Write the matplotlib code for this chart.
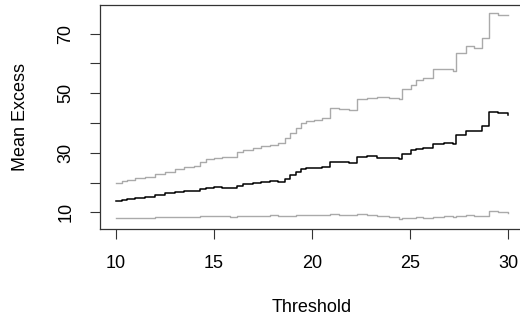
import numpy as np
import matplotlib
matplotlib.use("Agg")
from matplotlib import pyplot as plt

plt.rcParams['font.family'] = ['Liberation Sans', 'DejaVu Sans']

#%% data (mean residual life plot)
threshold = [10.0, 10.3, 10.6, 11.0, 11.5, 12.0, 12.5, 13.0, 13.5, 14.0,
             14.3, 14.6, 15.0, 15.4, 15.8, 16.2, 16.5, 17.0, 17.4, 17.85,
             18.25, 18.6, 18.9, 19.2, 19.45, 19.7, 20.1, 20.5, 20.9, 21.4,
             21.9, 22.3, 22.8, 23.3, 23.9, 24.45, 24.6, 25.05, 25.3, 25.65,
             26.15, 26.7, 27.2, 27.35, 27.85, 28.25, 28.65, 29.0, 29.5, 30.0]

mean_excess = [13.8, 14.3, 14.6, 14.8, 15.3, 15.9, 16.4, 16.7, 17.0, 17.2,
               17.8, 18.3, 18.4, 18.3, 18.2, 19.0, 19.6, 19.8, 20.2, 20.6,
               20.1, 21.3, 22.5, 23.6, 24.7, 24.9, 24.9, 25.3, 27.0, 26.8,
               26.4, 28.6, 28.8, 28.4, 28.1, 27.8, 29.5, 30.8, 31.3, 31.5,
               33.1, 33.4, 32.9, 35.9, 37.4, 37.2, 38.9, 43.6, 43.3, 42.7]

upper_ci = [19.7, 20.4, 21.0, 21.4, 22.0, 22.8, 23.6, 24.4, 25.1, 25.6,
            26.8, 27.8, 28.4, 28.6, 28.7, 30.2, 31.0, 31.6, 32.2, 32.6,
            33.4, 35.0, 36.6, 38.3, 39.9, 40.6, 41.0, 41.6, 45.0, 44.6,
            44.2, 48.0, 48.4, 48.6, 48.3, 48.0, 51.3, 52.6, 54.5, 55.0,
            58.2, 58.0, 57.6, 63.4, 65.7, 65.3, 68.5, 76.9, 76.3, 76.1]

lower_ci = [8.0, 8.1, 8.1, 8.2, 8.2, 8.3, 8.3, 8.4, 8.5, 8.5,
            8.7, 8.8, 8.8, 8.6, 8.5, 8.7, 8.9, 8.8, 8.7, 9.1,
            8.6, 8.7, 8.9, 9.0, 9.2, 9.2, 9.0, 9.2, 9.5, 9.2,
            9.0, 9.4, 9.2, 8.7, 8.3, 7.8, 8.2, 8.0, 8.3, 8.1,
            8.4, 8.6, 8.5, 8.7, 9.1, 8.9, 8.8, 10.5, 10.2, 9.9]

x_ticks = [10, 15, 20, 25, 30]
y_ticks = [10, 20, 30, 40, 50, 60, 70]
y_tick_labels = ['10', '', '30', '', '50', '', '70']

#%% plot
fig = plt.figure(figsize=(5.2, 3.24), dpi=100)
ax = fig.add_axes([100/520, 95/324, 424/520, 224/324])

ax.plot(threshold, upper_ci, color='#aaaaaa', lw=1.0, drawstyle='steps-post')
ax.plot(threshold, lower_ci, color='#aaaaaa', lw=1.0, drawstyle='steps-post')
ax.plot(threshold, mean_excess, color='black', lw=1.1, drawstyle='steps-post')

ax.set_xlim(9.2, 30.8)
ax.set_ylim(4.4, 79.6)
ax.set_xticks(x_ticks)
ax.set_yticks(y_ticks)
ax.set_yticklabels(y_tick_labels, rotation=90, va='center')
ax.tick_params(axis='both', length=7.5, width=0.8, color='#333333',
               labelsize=13, pad=11)
for s in ax.spines.values():
    s.set_linewidth(0.9)
    s.set_color('#333333')

fig.text(312/520, 1 - 308/324, 'Threshold', ha='center', va='center', fontsize=13)
fig.text(21/520, 1 - 117/324, 'Mean Excess', ha='center', va='center',
         rotation=90, fontsize=13)

fig.savefig('out.png', dpi=100)
